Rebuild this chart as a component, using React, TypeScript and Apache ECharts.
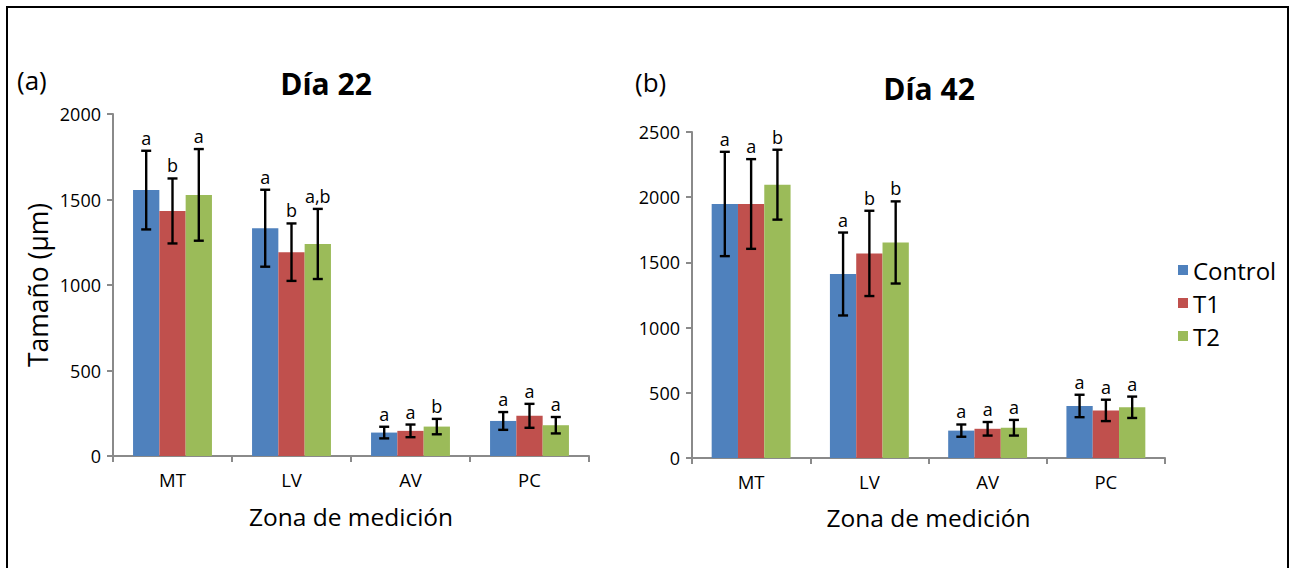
import React, { useEffect, useRef } from "react";
import * as echarts from "echarts";

const categories = ["MT", "LV", "AV", "PC"];
const seriesNames = ["Control", "T1", "T2"];
const colors = ["#4F81BD", "#C0504D", "#9BBB59"];

// Día 22
const d22Control = [1555, 1332, 137, 205];
const d22T1 = [1433, 1192, 147, 235];
const d22T2 = [1527, 1240, 172, 180];
const d22ControlErr = [230, 225, 34, 52];
const d22T1Err = [190, 168, 37, 70];
const d22T2Err = [268, 205, 45, 48];
const d22ControlSig = ["a", "a", "a", "a"];
const d22T1Sig = ["b", "b", "a", "a"];
const d22T2Sig = ["a", "a,b", "b", "a"];

// Día 42
const d42Control = [1948, 1411, 210, 399];
const d42T1 = [1948, 1569, 224, 365];
const d42T2 = [2096, 1653, 232, 389];
const d42ControlErr = [400, 318, 47, 86];
const d42T1Err = [344, 327, 52, 82];
const d42T2Err = [268, 315, 60, 82];
const d42ControlSig = ["a", "a", "a", "a"];
const d42T1Sig = ["a", "b", "a", "a"];
const d42T2Sig = ["b", "b", "a", "a"];

const yMax22 = 2000;
const yMax42 = 2500;
const yStep = 500;

const FONT = '"Open Sans", sans-serif';
const BAR_W = 26.3;
const AXIS_COLOR = "#8a8a8a";

function buildErr(vals: number[][], errs: number[][], sigs: string[][]) {
  const data: number[][] = [];
  const labels: string[] = [];
  vals.forEach((arr, s) => {
    arr.forEach((v, c) => {
      data.push([c, v, errs[s][c], s]);
      labels.push(sigs[s][c]);
    });
  });
  return { data, labels };
}

function errSeries(name: string, idx: number, vals: number[][], errs: number[][], sigs: string[][]) {
  const { data, labels } = buildErr(vals, errs, sigs);
  return {
    type: "custom",
    name,
    xAxisIndex: idx,
    yAxisIndex: idx,
    z: 10,
    silent: true,
    encode: { x: 0, y: 1 },
    data,
    renderItem: (params: any, api: any) => {
      const cat = api.value(0);
      const val = api.value(1);
      const err = api.value(2);
      const s = api.value(3);
      const c = api.coord([cat, val]);
      const x = c[0] + (s - 1) * BAR_W;
      const top = api.coord([cat, val + err])[1];
      const bot = api.coord([cat, val - err])[1];
      const ls = { stroke: "#000", lineWidth: 2.4 };
      return {
        type: "group",
        children: [
          { type: "line", shape: { x1: x, y1: top, x2: x, y2: bot }, style: ls },
          { type: "line", shape: { x1: x - 5, y1: top, x2: x + 5, y2: top }, style: ls },
          { type: "line", shape: { x1: x - 5, y1: bot, x2: x + 5, y2: bot }, style: ls },
          {
            type: "text",
            x,
            y: top - 13,
            style: {
              text: labels[params.dataIndex],
              fill: "#000",
              fontSize: 18,
              fontFamily: FONT,
              align: "center",
              verticalAlign: "middle",
            },
          },
        ],
      };
    },
  };
}

function barSeries(idx: number, vals: number[][]) {
  return vals.map((v, s) => ({
    type: "bar",
    name: seriesNames[s],
    xAxisIndex: idx,
    yAxisIndex: idx,
    data: v,
    barWidth: BAR_W,
    barGap: "0%",
    itemStyle: { color: colors[s] },
  }));
}

function xAxis(idx: number) {
  return {
    type: "category",
    gridIndex: idx,
    data: categories,
    name: "Zona de medición",
    nameLocation: "middle",
    nameGap: idx === 0 ? 48 : 47,
    nameTextStyle: { fontSize: 24.5, fontFamily: FONT, color: "#000" },
    axisLine: { lineStyle: { color: AXIS_COLOR, width: 2 } },
    axisTick: { show: true, length: 6, lineStyle: { color: AXIS_COLOR, width: 2 } },
    axisLabel: { fontSize: 18.5, fontFamily: FONT, color: "#000", margin: 14 },
    splitLine: { show: false },
  };
}

function yAxis(idx: number, max: number) {
  return {
    type: "value",
    gridIndex: idx,
    min: 0,
    max,
    interval: yStep,
    name: idx === 0 ? "Tamaño (µm)" : "",
    nameLocation: "middle",
    nameGap: 62,
    nameTextStyle: { fontSize: 26.5, fontFamily: FONT, color: "#000" },
    axisLine: { show: true, lineStyle: { color: AXIS_COLOR, width: 2 } },
    axisTick: { show: true, length: 6, lineStyle: { color: AXIS_COLOR, width: 2 } },
    axisLabel: {
      fontSize: 18,
      fontFamily: FONT,
      color: "#000",
      margin: 12,
      formatter: (v: number) => String(v),
    },
    splitLine: { show: false },
  };
}

export default function App() {
  const ref = useRef<HTMLDivElement>(null);
  useEffect(() => {
    if (!ref.current) return;
    const chart = echarts.init(ref.current, null, { renderer: "svg" });
    const v22 = [d22Control, d22T1, d22T2];
    const e22 = [d22ControlErr, d22T1Err, d22T2Err];
    const s22 = [d22ControlSig, d22T1Sig, d22T2Sig];
    const v42 = [d42Control, d42T1, d42T2];
    const e42 = [d42ControlErr, d42T1Err, d42T2Err];
    const s42 = [d42ControlSig, d42T1Sig, d42T2Sig];
    chart.setOption({
      animation: false,
      backgroundColor: "#fff",
      textStyle: { fontFamily: FONT },
      grid: [
        { left: 113, top: 114, width: 476, height: 342 },
        { left: 692, top: 132, width: 473, height: 326 },
      ],
      xAxis: [xAxis(0), xAxis(1)],
      yAxis: [yAxis(0, yMax22), yAxis(1, yMax42)],
      legend: {
        orient: "vertical",
        left: 1173,
        top: 253,
        data: seriesNames,
        icon: "rect",
        itemWidth: 10,
        itemHeight: 10,
        itemGap: 9,
        textStyle: { fontSize: 24, fontFamily: FONT, color: "#000" },
      },
      graphic: [
        {
          type: "rect",
          shape: { x: 7, y: 7, width: 1281, height: 620 },
          style: { fill: "none", stroke: "#000", lineWidth: 2 },
          silent: true,
        },
        {
          type: "text",
          x: 326,
          y: 83,
          style: { text: "Día 22", fontSize: 30, fontWeight: "bold", fontFamily: FONT, fill: "#000", align: "center", verticalAlign: "middle" },
        },
        {
          type: "text",
          x: 929,
          y: 88,
          style: { text: "Día 42", fontSize: 30, fontWeight: "bold", fontFamily: FONT, fill: "#000", align: "center", verticalAlign: "middle" },
        },
        {
          type: "text",
          x: 17,
          y: 80,
          style: { text: "(a)", fontSize: 26, fontFamily: FONT, fill: "#000", align: "left", verticalAlign: "middle" },
        },
        {
          type: "text",
          x: 635,
          y: 82,
          style: { text: "(b)", fontSize: 26, fontFamily: FONT, fill: "#000", align: "left", verticalAlign: "middle" },
        },
      ],
      series: [
        ...barSeries(0, v22),
        ...barSeries(1, v42),
        errSeries("err22", 0, v22, e22, s22),
        errSeries("err42", 1, v42, e42, s42),
      ],
    });
    return () => chart.dispose();
  }, []);
  return <div ref={ref} style={{ position: "absolute", left: 0, top: 0, width: 1291, height: 568 }} />;
}
